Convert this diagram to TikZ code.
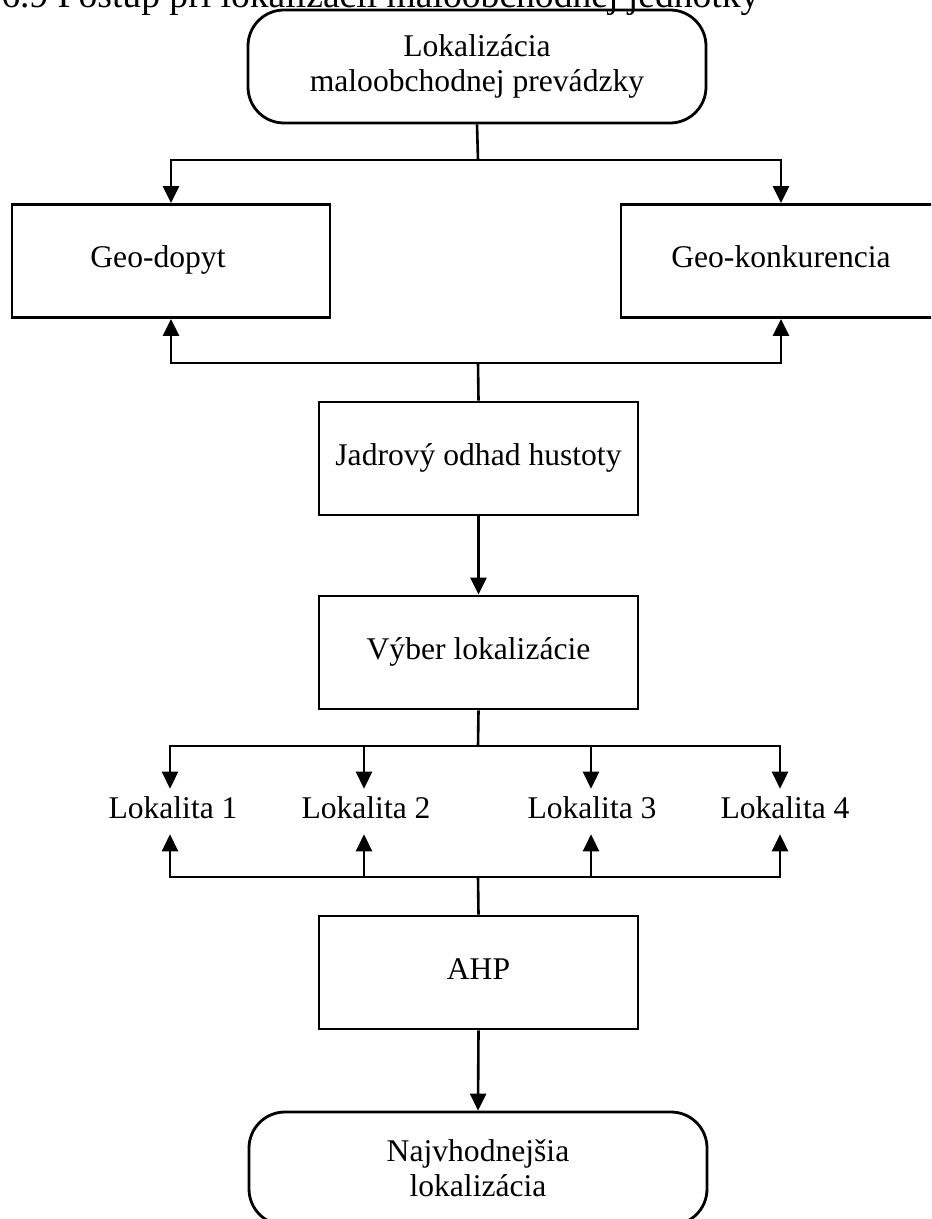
\documentclass[tikz,border=0pt]{standalone}
\usepackage{fontspec}
\setmainfont{Liberation Serif}
\usetikzlibrary{arrows.meta}
\begin{document}
\begin{tikzpicture}[x=0.5pt,y=-0.5pt,line width=1.3pt,
  every node/.style={font=\fontsize{15.8}{17.5}\selectfont},
  stepbox/.style={draw,line width=1.4pt,rectangle,inner sep=0pt,minimum width=159.5pt,minimum height=56.5pt,text height=0.66em,text depth=0pt},
  termbox/.style={draw,line width=1.4pt,rectangle,rounded corners=18pt,inner sep=0pt,minimum width=229pt,minimum height=56.5pt,align=center},
  loknode/.style={inner sep=0pt,text height=14pt,text depth=7.5pt},
  arr/.style={-{Triangle[length=8.5pt,width=8pt]}}
]
\useasboundingbox (0,0) rectangle (931,1219);
\clip (0,0) rectangle (931,1219);

\node[anchor=base west,inner sep=0pt,font=\fontsize{18.8}{20}\selectfont] (cap) at (0,8) {6.9 Postup pri lokalizácii maloobchodnej jednotky};

\node[termbox] (top) at (477,66.5) {Lokalizácia\\maloobchodnej prevádzky};
\node[stepbox,minimum width=159pt] (geod) at (171,261) {\hspace*{-13pt}Geo-dopyt};
\node[stepbox,minimum width=160pt] (geok) at (781,261) {Geo-konkurencia};
\node[stepbox] (kde) at (478.5,458.5) {Jadrový odhad hustoty};
\node[stepbox] (vyber) at (478.5,652.5) {Výber lokalizácie};
\node[loknode] (l1) at (170,811.5) {\hspace*{3pt}Lokalita 1};
\node[loknode] (l2) at (364,811.5) {\hspace*{2pt}Lokalita 2};
\node[loknode] (l3) at (591,811.5) {\hspace*{1pt}Lokalita 3};
\node[loknode] (l4) at (780,811.5) {\hspace*{5pt}Lokalita 4};
\node[stepbox] (ahp) at (478.5,972.5) {AHP};
\node[termbox] (best) at (478,1168.5) {Najvhodnejšia\\lokalizácia};

\coordinate (j1) at (478,160);
\coordinate (j2) at (478,363);
\coordinate (j3) at (478,746);
\coordinate (j4) at (478,877);

\draw (top.south) -- (j1);
\draw[arr] (j1) -| (geod.north);
\draw[arr] (j1) -| (geok.north);

\draw (kde.north) -- (j2);
\draw[arr] (j2) -| (geod.south);
\draw[arr] (j2) -| (geok.south);

\draw[arr] (kde.south) -- (vyber.north);

\draw (vyber.south) -- (j3);
\foreach \n in {l1,l2,l3,l4} \draw[arr] (j3) -| (\n.north);

\draw (ahp.north) -- (j4);
\foreach \n in {l1,l2,l3,l4} \draw[arr] (j4) -| (\n.south);

\draw[arr] (ahp.south) -- (best.north);
\end{tikzpicture}
\end{document}
